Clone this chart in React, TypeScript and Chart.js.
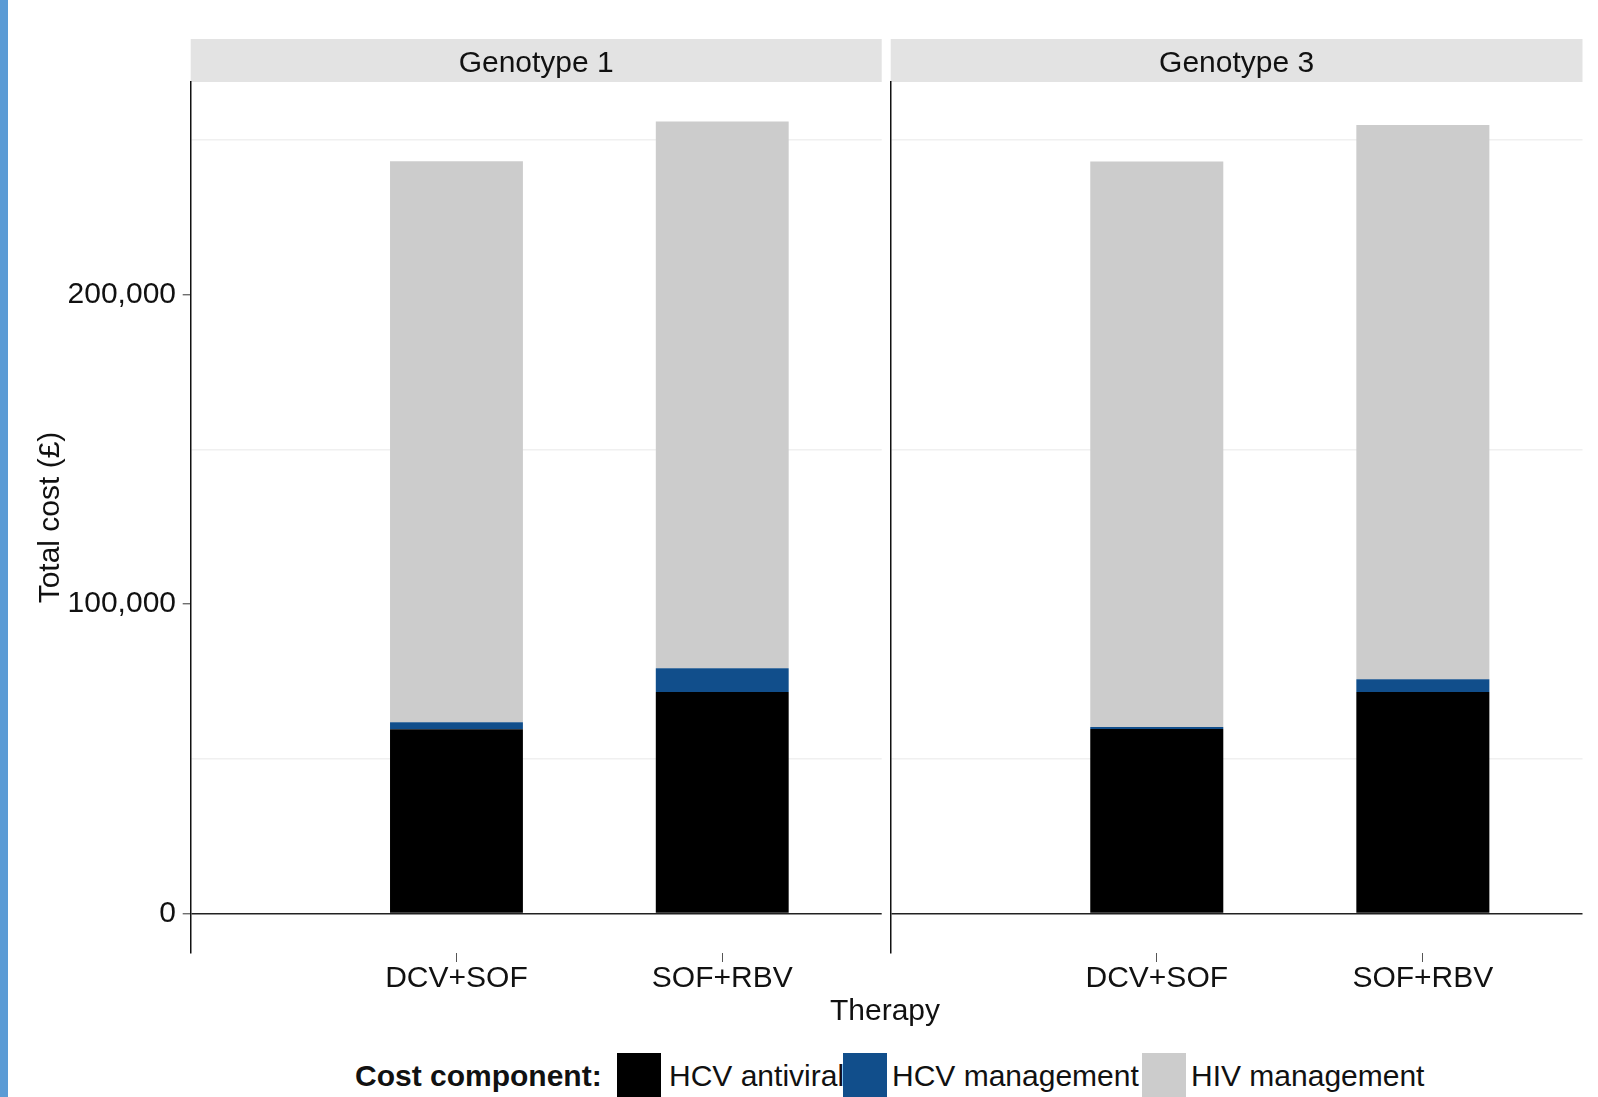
import React, { useEffect, useRef } from "react";
import { Chart, registerables } from "chart.js";

Chart.register(...registerables);

// ---------------- data ----------------
const therapies = ["DCV+SOF", "SOF+RBV"];
const therapyPositions = [1, 2];
const genotypes = ["Genotype 1", "Genotype 3"];
const components = ["HCV antiviral", "HCV management", "HIV management"];
const componentColors = ["#000000", "#114E8B", "#CCCCCC"];

const g1HcvAntiviral = [59500, 71600];
const g1HcvManagement = [2300, 7700];
const g1HivManagement = [181400, 176700];

const g3HcvAntiviral = [59600, 71600];
const g3HcvManagement = [700, 4100];
const g3HivManagement = [182800, 179200];

const yMajorTicks = [0, 100000, 200000];
const yMinorTicks = [50000, 150000, 250000];

const xAxisTitle = "Therapy";
const yAxisTitle = "Total cost (£)";
const legendTitle = "Cost component:";

const panelSeries = [
  [g1HcvAntiviral, g1HcvManagement, g1HivManagement],
  [g3HcvAntiviral, g3HcvManagement, g3HivManagement],
];

// ---------------- layout ----------------
const FONT = '"Liberation Sans", Arial, Helvetica, sans-serif';
const TEXT = "#111111";
const STRIP_TOP = 39;
const legendKeyLeft = [617, 843, 1142];
const legendLabelLeft = [669, 892, 1191];

const totals: number[] = [];
panelSeries.forEach((s) =>
  therapies.forEach((_, i) => totals.push(s.reduce((acc, arr) => acc + arr[i], 0)))
);
const maxTotal = Math.max(...totals);
const yMin = -0.05 * maxTotal;
const yMax = 1.05 * maxTotal;

const stripPlugin = {
  id: "strip",
  beforeDraw(chart: any, _args: any, opts: any) {
    const { ctx, chartArea } = chart;
    ctx.save();
    ctx.fillStyle = "#E3E3E3";
    ctx.fillRect(chartArea.left, STRIP_TOP, chartArea.right - chartArea.left, chartArea.top - STRIP_TOP);
    ctx.fillStyle = TEXT;
    ctx.font = `30px ${FONT}`;
    ctx.textAlign = "center";
    ctx.textBaseline = "middle";
    ctx.fillText(opts.text, (chartArea.left + chartArea.right) / 2, (STRIP_TOP + chartArea.top) / 2 + 3);
    ctx.restore();
  },
};

function buildConfig(panel: number, first: boolean): any {
  const series = panelSeries[panel];
  const allYTicks = [...yMajorTicks, ...yMinorTicks].sort((a, b) => a - b);
  return {
    type: "bar",
    data: {
      datasets: components.map((name, k) => ({
        label: name,
        data: therapyPositions.map((x, i) => ({ x, y: series[k][i] })),
        backgroundColor: componentColors[k],
        borderWidth: 0,
        barPercentage: 0.5,
        categoryPercentage: 1,
        stack: "cost",
      })),
    },
    options: {
      animation: false,
      responsive: false,
      maintainAspectRatio: false,
      layout: { padding: { top: 82, right: first ? 4.3 : 15.5, bottom: 0, left: 0 } },
      plugins: {
        legend: { display: false },
        tooltip: { enabled: false },
        strip: { text: genotypes[panel] },
      },
      scales: {
        x: {
          type: "linear",
          min: 0,
          max: 2.6,
          offset: false,
          stacked: true,
          afterBuildTicks: (s: any) => {
            s.ticks = therapyPositions.map((v) => ({ value: v }));
          },
          ticks: {
            callback: (v: number) => {
              const i = therapyPositions.indexOf(v);
              return i >= 0 ? therapies[i] : "";
            },
            font: { size: 30, lineHeight: 1, family: FONT },
            color: TEXT,
            padding: 2,
            maxRotation: 0,
            autoSkip: false,
          },
          grid: {
            display: true,
            offset: false,
            drawOnChartArea: false,
            drawTicks: true,
            tickLength: 9,
            tickColor: "#555555",
            tickWidth: 1,
          },
          border: { display: false },
          afterFit: (s: any) => {
            s.height = 47;
          },
        },
        y: {
          type: "linear",
          min: yMin,
          max: yMax,
          stacked: true,
          afterBuildTicks: (s: any) => {
            s.ticks = allYTicks.map((v) => ({ value: v }));
          },
          ticks: {
            display: first,
            callback: (v: number) => (yMajorTicks.includes(v) ? v.toLocaleString("en-US") : ""),
            font: { size: 30, family: FONT },
            color: TEXT,
            padding: 6.7,
            autoSkip: false,
          },
          grid: {
            drawTicks: first,
            tickLength: 8,
            color: (ctx: any) => {
              const v = ctx.tick ? ctx.tick.value : null;
              if (v === 0) return "#222222";
              if (yMinorTicks.includes(v)) return "#F0F0F0";
              return "rgba(0,0,0,0)";
            },
            lineWidth: 1.5,
            tickColor: (ctx: any) => {
              const v = ctx.tick ? ctx.tick.value : null;
              return yMajorTicks.includes(v) ? "#555555" : "rgba(0,0,0,0)";
            },
            tickWidth: 1.2,
          },
          border: { display: true, color: "#111111", width: 1.5 },
          title: {
            display: first,
            text: yAxisTitle,
            font: { size: 30, family: FONT },
            color: TEXT,
            padding: { top: 33, bottom: 0 },
          },
          afterFit: (s: any) => {
            s.width = first ? 190.7 : 6.7;
          },
        },
      },
    },
    plugins: [stripPlugin],
  };
}

export default function App() {
  const ref1 = useRef<HTMLCanvasElement>(null);
  const ref2 = useRef<HTMLCanvasElement>(null);

  useEffect(() => {
    Chart.defaults.font.family = FONT;
    const c1 = new Chart(ref1.current as HTMLCanvasElement, buildConfig(0, true));
    const c2 = new Chart(ref2.current as HTMLCanvasElement, buildConfig(1, false));
    return () => {
      c1.destroy();
      c2.destroy();
    };
  }, []);

  return (
    <div
      style={{
        position: "fixed",
        left: 0,
        top: 0,
        width: 1598,
        height: 1097,
        background: "#ffffff",
        overflow: "hidden",
        fontFamily: FONT,
        color: TEXT,
      }}
    >
      <div style={{ position: "absolute", left: 0, top: 0, width: 8, height: 1097, background: "#5B9BD5" }} />
      <canvas ref={ref1} width={886} height={1000} style={{ position: "absolute", left: 0, top: 0 }} />
      <canvas ref={ref2} width={714} height={1000} style={{ position: "absolute", left: 884, top: 0 }} />
      <div
        style={{
          position: "absolute",
          left: 685,
          width: 400,
          top: 992,
          fontSize: 30,
          lineHeight: "36px",
          textAlign: "center",
          whiteSpace: "nowrap",
        }}
      >
        {xAxisTitle}
      </div>
      <div
        style={{
          position: "absolute",
          left: 355,
          top: 1054,
          height: 44,
          display: "flex",
          alignItems: "center",
          fontSize: 30,
          fontWeight: "bold",
          whiteSpace: "nowrap",
        }}
      >
        {legendTitle}
      </div>
      {components.map((name, k) => (
        <React.Fragment key={name}>
          <div
            style={{
              position: "absolute",
              left: legendKeyLeft[k],
              top: 1053,
              width: 44,
              height: 44,
              background: componentColors[k],
            }}
          />
          <div
            style={{
              position: "absolute",
              left: legendLabelLeft[k],
              top: 1054,
              height: 44,
              display: "flex",
              alignItems: "center",
              fontSize: 30,
              whiteSpace: "nowrap",
            }}
          >
            {name}
          </div>
        </React.Fragment>
      ))}
    </div>
  );
}
